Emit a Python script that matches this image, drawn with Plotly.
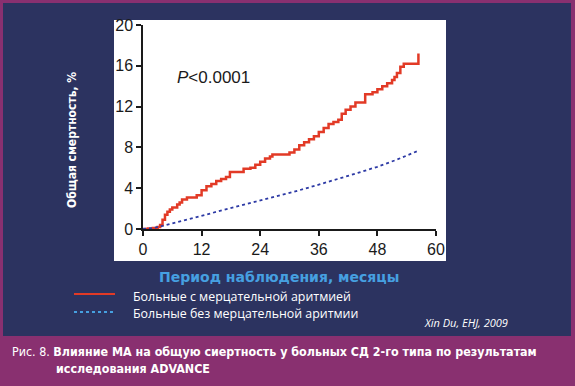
import plotly.graph_objects as go

# ---------------- data ----------------
af_months = [0, 1, 2, 3, 3.5, 4, 4.5, 5, 5.5, 6, 7, 7.5, 8, 9, 10.5, 11, 12, 13, 14, 15, 16, 17,
             17.8, 20.6, 21, 22, 23, 24, 25, 26, 26.5, 29, 30, 31, 32, 33, 34, 35, 36, 37, 38,
             39, 40, 40.7, 41.5, 42.5, 43.5, 45.5, 47, 48, 49, 50, 51, 51.5, 52, 52.7, 53.4, 56.4]
af_mortality = [0, 0.05, 0.1, 0.2, 0.4, 0.9, 1.4, 1.7, 1.9, 2.1, 2.4, 2.6, 2.9, 3.1, 3.1, 3.3, 3.8,
                4.2, 4.4, 4.7, 4.9, 5.1, 5.6, 5.9, 5.9, 6.0, 6.3, 6.6, 6.9, 7.1, 7.3, 7.3, 7.5, 7.8,
                8.2, 8.5, 8.8, 9.1, 9.5, 9.9, 10.3, 10.5, 10.7, 11.3, 11.7, 12.0, 12.4, 13.2, 13.4,
                13.7, 14.0, 14.3, 14.6, 14.9, 15.3, 15.9, 16.2, 17.2]

noaf_months = [0, 2, 4, 6, 8, 12, 16, 18, 20, 24, 28, 32, 36, 40, 44, 48, 52, 56.5]
noaf_mortality = [0, 0.1, 0.3, 0.55, 0.8, 1.25, 1.75, 2.0, 2.25, 2.75, 3.25, 3.8, 4.35, 4.9, 5.5, 6.1, 6.8, 7.7]

x_ticks = [0, 12, 24, 36, 48, 60]
y_ticks = [0, 4, 8, 12, 16, 20]

legend_labels = ["Больные с мерцательной аритмией", "Больные без мерцательной аритмии"]
x_title = "Период наблюдения, месяцы"
y_title = "Общая смертность, %"
p_text = "<i>P</i>&lt;0.0001"
source_text = "Xin Du, EHJ, 2009"
caption_line1 = "Рис. 8. <b>Влияние МА на общую сиертность у больных СД 2-го типа по результатам</b>"
caption_line2 = "<b>исследования ADVANCE</b>"

# ---------------- layout geometry ----------------
WIDTH, HEIGHT = 575, 386
L, R, T, B = 143, 436, 25, 229
PW, PH = R - L, B - T


def fx(px):
    return (px - L) / PW


def fy(py):
    return (B - py) / PH


NAVY = "rgb(44,51,96)"
MAGENTA = "rgb(137,48,112)"
RED = "rgb(226,58,38)"
DARKBLUE = "rgb(45,58,165)"
LIGHTBLUE = "rgb(70,160,225)"

fig = go.Figure()
fig.add_trace(go.Scatter(x=af_months, y=af_mortality, mode="lines",
                         line=dict(color=RED, width=2.5, shape="hv"),
                         name=legend_labels[0], showlegend=False, cliponaxis=False))
fig.add_trace(go.Scatter(x=noaf_months, y=noaf_mortality, mode="lines",
                         line=dict(color=DARKBLUE, width=1.8, dash="dot"),
                         name=legend_labels[1], showlegend=False, cliponaxis=False))

shapes = [
    dict(type="rect", xref="paper", yref="paper", x0=fx(3), x1=fx(571), y0=fy(3), y1=fy(336),
         fillcolor=NAVY, line=dict(width=0), layer="below"),
    dict(type="rect", xref="paper", yref="paper", x0=fx(114), x1=fx(446), y0=fy(20), y1=fy(261),
         fillcolor="white", line=dict(width=0), layer="below"),
    dict(type="line", xref="paper", yref="paper", x0=fx(74), x1=fx(115), y0=fy(294), y1=fy(294),
         line=dict(color=RED, width=2)),
    dict(type="line", xref="paper", yref="paper", x0=fx(74), x1=fx(115), y0=fy(312), y1=fy(312),
         line=dict(color=LIGHTBLUE, width=2, dash="dot")),
]

annotations = [
    dict(text=p_text, xref="x", yref="y", x=6.6, y=14.9, xanchor="left", yanchor="middle",
         showarrow=False, font=dict(family="Liberation Sans, Arial", size=17, color="#1a1a1a")),
    dict(text=y_title, xref="paper", yref="paper", x=fx(72), y=fy(140), textangle=-90,
         xanchor="center", yanchor="middle", showarrow=False,
         font=dict(family="DejaVu Sans Condensed, DejaVu Sans", size=12, color="white", weight="bold")),
    dict(text=x_title, xref="paper", yref="paper", x=fx(279), y=fy(277),
         xanchor="center", yanchor="middle", showarrow=False,
         font=dict(family="DejaVu Sans", size=14, color=LIGHTBLUE, weight="bold")),
    dict(text=legend_labels[0], xref="paper", yref="paper", x=fx(131), y=fy(296),
         xanchor="left", yanchor="middle", showarrow=False,
         font=dict(family="Open Sans", size=12.4, color="white")),
    dict(text=legend_labels[1], xref="paper", yref="paper", x=fx(131), y=fy(313),
         xanchor="left", yanchor="middle", showarrow=False,
         font=dict(family="Open Sans", size=12.4, color="white")),
    dict(text=source_text, xref="paper", yref="paper", x=fx(422), y=fy(322),
         xanchor="left", yanchor="middle", showarrow=False,
         font=dict(family="Open Sans", size=11, color="white", style="italic")),
    dict(text=caption_line1, xref="paper", yref="paper", x=fx(10), y=fy(351),
         xanchor="left", yanchor="middle", showarrow=False,
         font=dict(family="DejaVu Sans Condensed", size=12.4, color="white")),
    dict(text=caption_line2, xref="paper", yref="paper", x=fx(54), y=fy(368),
         xanchor="left", yanchor="middle", showarrow=False,
         font=dict(family="DejaVu Sans Condensed", size=12.4, color="white")),
]

axis_common = dict(showline=True, linecolor="#1a1a1a", linewidth=1.5, ticks="outside",
                   ticklen=5, tickwidth=1.5, tickcolor="#1a1a1a", showgrid=False, zeroline=False,
                   tickfont=dict(family="Liberation Sans, Arial", size=16, color="#1a1a1a"))

fig.update_layout(
    width=WIDTH, height=HEIGHT, autosize=False,
    margin=dict(l=L, r=WIDTH - R, t=T, b=HEIGHT - B, pad=0),
    paper_bgcolor=MAGENTA, plot_bgcolor="rgba(0,0,0,0)",
    xaxis=dict(range=[0, 60], tickvals=x_ticks, fixedrange=True, **axis_common),
    yaxis=dict(range=[0, 20], tickvals=y_ticks, fixedrange=True, **axis_common),
    shapes=shapes, annotations=annotations, showlegend=False, hovermode=False,
)

fig.write_html("out.html", config={"displayModeBar": False},
               post_script="document.body.style.margin='0';document.body.style.background='rgb(137,48,112)';")
